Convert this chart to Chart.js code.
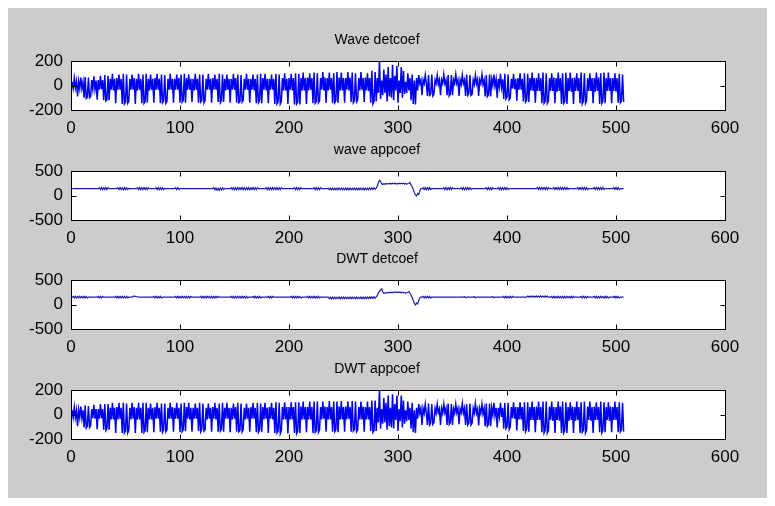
<!DOCTYPE html>
<html>
<head>
<meta charset="utf-8">
<script src="https://cdn.jsdelivr.net/npm/chart.js@4/dist/chart.umd.min.js"></script>
<style>
html, body { margin: 0; padding: 0; background: #ffffff; width: 775px; height: 506px; overflow: hidden; }
#fig { position: absolute; left: 8px; top: 8px; width: 759px; height: 490px; background: #cccccc; }
canvas { position: absolute; left: 0; }
</style>
</head>
<body>
<div id="fig"></div>
<script>
// subplot titles, top to bottom
const titles = ['Wave detcoef', 'wave appcoef', 'DWT detcoef', 'DWT appcoef'];
const xTicks = [0, 100, 200, 300, 400, 500, 600];
const yTicksDet = [-200, 0, 200];
const yTicksApp = [-500, 0, 500];

const waveDetcoef = [
  30,-25,60,-20,35,-90,35,-25,65,-25,30,-100,70,-105,-95,65,-100,-90,
  45,-30,75,-30,40,-115,45,-35,80,-30,45,-120,85,-125,-115,80,-120,
  55,-35,95,-40,55,-145,60,-35,90,-35,55,-150,95,-150,-135,90,-145,-130,
  55,-35,90,-35,60,-150,55,-40,95,-35,55,-145,90,-145,-130,95,-140,
  55,-40,90,-35,55,-140,60,-35,95,-35,55,-145,90,-140,-125,85,-145,-130,
  55,-35,95,-35,55,-140,55,-35,90,-35,60,-140,90,-135,-120,95,-140,
  60,-35,90,-35,55,-135,55,-40,95,-35,55,-140,90,-135,-125,90,-140,-120,
  55,-35,95,-35,55,-140,60,-35,90,-35,55,-135,95,-140,-125,90,-135,
  55,-40,90,-35,55,-140,55,-35,95,-35,60,-140,90,-140,-130,85,-135,-120,
  55,-35,95,-35,55,-140,55,-35,90,-40,55,-145,90,-140,-125,95,-145,
  60,-35,95,-40,55,-145,55,-35,90,-35,55,-150,95,-150,-135,90,-150,-130,
  60,-40,100,-40,55,-150,60,-35,95,-40,60,-155,100,-150,-135,95,-155,
  60,-40,105,-40,60,-150,65,-40,100,-35,60,-145,105,-145,-130,100,-140,-125,
  60,-35,110,-40,65,-140,60,-40,105,-35,60,-145,100,-140,-125,110,-140,
  65,-40,105,-40,60,-140,60,-35,110,-40,65,-135,105,-140,-125,100,-135,-120,
  60,-40,110,-35,60,-135,65,-40,100,-45,60,-140,120,-150,-130,110,-130,
  60,-60,210,-110,40,-80,130,-60,90,-130,150,-90,60,-100,170,-120,80,-40,
  160,-140,40,-60,150,-100,120,-70,30,-60,100,-40,60,-120,90,-150,40,
  -155,60,-40,85,15,45,-80,45,15,85,15,-85,85,-80,-70,90,-85,-70,
  45,15,85,10,45,-80,45,15,90,15,45,-80,85,-85,-70,85,-80,
  45,15,90,15,45,-85,45,10,85,15,45,-85,90,-80,-65,85,-80,-70,
  45,10,85,15,50,-85,45,15,90,10,45,-90,85,-90,-75,90,-90,
  50,0,90,-5,50,-100,55,-10,95,-15,50,-110,95,-110,-95,90,-115,-100,
  55,-25,95,-30,55,-125,60,-35,100,-35,55,-130,100,-135,-120,95,-135,
  60,-40,105,-45,60,-140,60,-45,100,-45,60,-145,105,-145,-130,100,-145,-125,
  60,-45,100,-45,65,-145,60,-50,105,-45,60,-150,100,-145,-130,105,-150,
  60,-45,105,-50,60,-150,65,-45,100,-45,60,-145,105,-150,-130,100,-145,-125,
  60,-45,100,-45,60,-145,60,-50,105,-45,65,-150,100,-145,-125,105,-145,
  60,-45,105,-45,60,-145,60,-45,100,-50,60,-140,95,-140,-125,90,-135
];

const waveAppcoef = [
  138,140,141,139,140,142,140,139,141,140,138,140,141,140,139,140,141,140,139,140,
  140,141,140,139,140,160,120,161,119,160,121,161,120,158,140,141,140,139,140,141,
  140,139,160,120,161,120,160,119,161,121,160,120,140,141,140,139,140,141,140,140,
  160,120,161,119,160,120,161,121,160,120,158,140,139,140,141,140,139,160,120,161,
  119,160,120,158,121,140,141,140,139,140,141,140,139,140,141,160,120,160,121,140,
  140,141,140,139,140,141,140,139,140,141,140,139,140,141,140,139,140,141,140,139,
  140,141,140,139,140,141,140,139,140,141,158,118,152,108,146,104,152,112,158,120,
  140,139,140,141,140,139,160,120,161,119,160,120,161,121,160,120,161,119,160,120,
  158,121,161,119,160,120,161,120,160,121,158,140,141,140,139,140,141,140,160,120,
  161,119,160,120,161,121,160,120,161,119,160,120,158,140,139,140,141,140,139,140,
  141,140,139,140,160,120,161,119,160,120,158,140,141,140,139,140,141,140,139,140,
  141,140,160,120,161,119,160,120,158,140,139,140,141,140,139,150,118,151,116,150,
  118,151,116,150,119,151,118,150,116,151,118,150,119,151,116,150,118,151,119,150,
  118,151,116,150,119,151,118,150,116,151,118,152,120,154,122,156,124,158,126,150,
  190,260,310,290,240,225,240,230,245,232,248,235,250,236,252,238,250,236,248,235,
  250,238,252,240,250,236,248,230,245,250,265,210,180,120,60,10,-10,40,20,90,
  140,141,160,120,161,119,160,120,161,121,140,141,140,139,140,141,140,139,140,141,
  140,160,120,161,119,160,120,161,121,158,140,139,140,141,140,139,140,160,120,161,
  119,160,120,161,121,160,120,140,141,140,139,140,141,140,139,140,141,140,139,140,
  160,120,161,119,160,120,158,140,139,140,141,160,120,161,119,160,120,161,121,160,
  120,142,143,142,141,142,143,142,141,142,143,142,141,142,143,142,141,142,143,142,
  142,143,142,141,142,143,142,162,122,163,121,162,122,163,123,162,122,160,142,143,
  142,141,162,122,163,121,162,122,163,123,162,122,163,121,162,122,142,143,142,141,
  142,143,142,141,162,122,163,121,162,122,163,123,162,122,142,143,142,141,142,162,
  122,163,121,162,122,163,123,162,122,142,143,142,141,142,143,142,141,162,122,163,
  121,162,122,142,141,142,140
];

const dwtDetcoef = [
  150,165,135,166,134,165,135,166,136,165,135,166,134,165,135,150,151,150,149,150,
  151,150,149,150,165,135,166,134,165,150,151,150,149,150,151,150,149,150,151,150,
  165,135,166,134,165,135,166,136,165,135,166,134,150,151,150,149,165,172,168,160,
  158,152,150,149,150,151,150,149,150,151,150,149,150,151,150,165,135,166,134,165,
  135,166,136,150,151,150,149,150,151,150,149,150,151,150,149,165,135,166,134,165,
  135,166,136,165,135,166,134,165,135,166,150,151,150,149,150,151,150,149,165,135,
  166,134,165,135,166,136,165,135,166,134,165,135,166,136,165,150,151,150,149,150,
  151,150,149,150,151,150,165,135,166,134,165,135,166,136,165,135,166,134,165,135,
  166,136,150,151,150,149,165,135,166,134,165,135,166,136,150,151,150,149,150,151,
  165,135,166,134,165,150,151,150,149,150,151,150,149,150,151,150,149,150,151,150,
  149,165,135,166,134,165,135,166,136,165,135,150,151,150,149,150,165,135,166,134,
  165,135,166,134,165,135,166,136,150,151,150,149,150,151,150,150,118,151,116,150,
  120,152,118,150,121,152,120,150,118,152,120,150,121,152,118,150,120,152,121,150,
  120,152,118,150,121,152,120,150,118,152,120,153,122,155,124,157,126,159,128,155,
  180,240,270,300,320,260,230,238,232,245,236,250,238,252,240,255,242,256,244,255,
  242,254,240,250,236,246,232,240,250,265,230,190,140,80,20,-10,30,10,80,130,
  150,151,165,135,166,134,165,135,166,136,150,151,150,149,150,151,150,149,150,151,
  150,149,150,151,150,149,150,151,150,149,150,151,150,149,150,151,150,149,150,151,
  162,138,150,151,150,149,150,151,150,162,138,150,149,150,151,150,149,150,151,150,
  149,150,151,150,149,150,162,138,150,151,150,149,150,151,150,149,165,135,166,134,
  165,135,166,136,165,150,150,149,150,151,150,149,150,151,150,149,150,151,172,150,
  172,150,174,149,172,150,174,151,172,150,174,149,172,150,174,151,172,150,150,151,
  165,135,166,134,165,135,166,136,165,135,166,134,165,135,166,136,165,135,166,134,
  165,150,151,150,149,150,151,165,135,166,134,165,135,166,150,149,150,151,150,165,
  135,166,134,165,135,166,136,165,135,166,134,165,135,150,151,150,149,165,135,166,
  134,165,135,150,151,150,150
];

const dwtAppcoef = [
  35,-25,60,-25,35,-95,40,-25,65,-30,35,-105,75,-110,-95,70,-105,-90,
  45,-30,80,-35,45,-120,45,-35,85,-30,45,-125,85,-130,-115,85,-125,
  55,-40,95,-40,55,-150,60,-40,95,-35,55,-150,95,-150,-135,90,-150,-130,
  55,-40,95,-35,60,-150,55,-40,95,-40,55,-150,95,-145,-130,95,-145,
  55,-40,90,-40,55,-145,60,-35,95,-35,55,-140,90,-145,-125,90,-140,-125,
  55,-35,95,-35,60,-140,55,-35,95,-35,55,-145,90,-140,-125,95,-135,
  60,-35,95,-40,55,-140,55,-35,90,-35,55,-135,95,-140,-120,90,-135,-125,
  55,-40,90,-35,55,-140,60,-35,95,-40,55,-140,90,-135,-120,95,-140,
  55,-35,95,-35,55,-145,55,-40,90,-35,60,-140,95,-140,-130,90,-140,-120,
  55,-40,90,-35,55,-140,60,-35,95,-35,55,-145,95,-145,-125,90,-145,
  60,-40,95,-35,55,-150,60,-35,95,-40,55,-150,100,-150,-135,95,-155,-130,
  60,-40,100,-40,60,-155,60,-40,100,-40,60,-150,100,-155,-135,100,-150,
  65,-40,105,-40,60,-145,60,-40,105,-40,60,-150,105,-145,-130,105,-145,-125,
  60,-40,105,-35,65,-140,60,-40,110,-40,60,-140,105,-140,-125,105,-145,
  65,-40,110,-40,60,-140,65,-40,105,-35,60,-140,110,-135,-120,105,-140,-125,
  60,-40,105,-40,65,-140,60,-40,105,-40,60,-135,115,-145,-130,115,-135,
  55,-65,205,-115,45,-75,135,-65,95,-125,155,-95,55,-105,165,-115,85,-45,
  155,-135,45,-55,155,-105,115,-75,35,-55,105,-45,55,-115,95,-145,35,
  -150,55,-35,85,10,50,-85,50,10,85,10,-85,90,-85,-70,85,-80,-65,
  50,10,85,15,45,-85,50,10,85,15,50,-85,90,-80,-65,85,-85,
  45,10,85,15,50,-80,45,15,90,10,50,-85,85,-85,-70,90,-85,-70,
  50,10,90,10,45,-90,50,10,85,5,50,-95,90,-95,-80,90,-95,
  55,-5,95,-10,55,-105,55,-15,95,-20,55,-115,95,-115,-100,95,-120,-100,
  60,-30,100,-35,60,-130,60,-40,100,-40,60,-135,100,-140,-120,100,-140,
  60,-45,105,-45,60,-145,65,-45,105,-45,60,-145,105,-150,-130,105,-150,-130,
  65,-45,105,-50,60,-150,60,-45,105,-50,65,-150,105,-150,-130,100,-150,
  60,-50,100,-45,65,-150,60,-50,105,-45,60,-150,100,-145,-130,105,-150,-125,
  65,-45,105,-50,60,-150,65,-45,100,-45,60,-145,105,-150,-130,100,-145,
  60,-45,100,-50,65,-145,60,-45,105,-45,60,-145,100,-140,-125,95,-140
];

const boxTops = [61, 171, 280, 390];
const LABEL_FONT = { family: '"Liberation Sans", Arial, sans-serif', size: 17 };

// white axes background, black frame, inward tick marks and the title
const matlabAxes = {
  id: 'matlabAxes',
  beforeDatasetsDraw(chart) {
    const a = chart.chartArea, ctx = chart.ctx;
    ctx.save();
    ctx.fillStyle = '#ffffff';
    ctx.fillRect(a.left, a.top, a.right - a.left, a.bottom - a.top);
    ctx.restore();
  },
  afterDatasetsDraw(chart, args, opts) {
    const a = chart.chartArea, ctx = chart.ctx;
    const xs = chart.scales.x, ys = chart.scales.y;
    const L = Math.round(a.left) + 0.5, R = Math.round(a.right) + 0.5;
    const T = Math.round(a.top) + 0.5, B = Math.round(a.bottom) + 0.5;
    ctx.save();
    ctx.strokeStyle = '#000000';
    ctx.lineWidth = 1;
    ctx.beginPath();
    xs.ticks.forEach(t => {
      const px = Math.round(xs.getPixelForValue(t.value)) + 0.5;
      ctx.moveTo(px, T); ctx.lineTo(px, T + 5);
      ctx.moveTo(px, B); ctx.lineTo(px, B - 5);
    });
    ys.ticks.forEach(t => {
      const py = Math.round(ys.getPixelForValue(t.value)) + 0.5;
      ctx.moveTo(L, py); ctx.lineTo(L + 5, py);
      ctx.moveTo(R, py); ctx.lineTo(R - 5, py);
    });
    ctx.stroke();
    ctx.strokeRect(L, T, R - L, B - T);
    ctx.fillStyle = '#000000';
    ctx.font = '14px "Liberation Sans", Arial, sans-serif';
    ctx.textAlign = 'center';
    ctx.textBaseline = 'middle';
    ctx.fillText(opts.title, opts.titleX, a.top - 21);
    ctx.restore();
  }
};

function drawPanel(index, values, yTicks, color, width) {
  const canvas = document.createElement('canvas');
  canvas.width = 775;
  canvas.height = 110;
  canvas.style.top = (boxTops[index] - 32) + 'px';
  document.body.appendChild(canvas);
  const yMax = yTicks[yTicks.length - 1];
  new Chart(canvas, {
    type: 'line',
    data: {
      datasets: [{
        data: values.map((v, i) => ({ x: i + 1, y: v })),
        borderColor: color,
        borderWidth: width,
        pointRadius: 0,
        tension: 0,
        fill: false
      }]
    },
    options: {
      responsive: false,
      animation: false,
      events: [],
      layout: { padding: { top: 32, right: 50, left: 0, bottom: 0 } },
      plugins: {
        legend: { display: false },
        tooltip: { enabled: false },
        matlabAxes: { title: titles[index], titleX: 377 }
      },
      scales: {
        x: {
          type: 'linear', min: 0, max: 600,
          afterBuildTicks: s => { s.ticks = xTicks.map(v => ({ value: v })); },
          afterFit: s => { s.height = 29; },
          grid: { display: false, drawTicks: false },
          border: { display: false },
          ticks: { font: LABEL_FONT, color: '#000000', padding: 8, maxRotation: 0, autoSkip: false }
        },
        y: {
          min: -yMax, max: yMax,
          afterBuildTicks: s => { s.ticks = yTicks.map(v => ({ value: v })); },
          afterFit: s => { s.width = 71; },
          grid: { display: false, drawTicks: false },
          border: { display: false },
          ticks: { font: LABEL_FONT, color: '#000000', padding: 8, autoSkip: false }
        }
      }
    },
    plugins: [matlabAxes]
  });
}

drawPanel(0, waveDetcoef, yTicksDet, '#0000f0', 1.5);
drawPanel(1, waveAppcoef, yTicksApp, '#1e1eaa', 1.2);
drawPanel(2, dwtDetcoef, yTicksApp, '#1e1eaa', 1.2);
drawPanel(3, dwtAppcoef, yTicksDet, '#0000f0', 1.5);
</script>
</body>
</html>
